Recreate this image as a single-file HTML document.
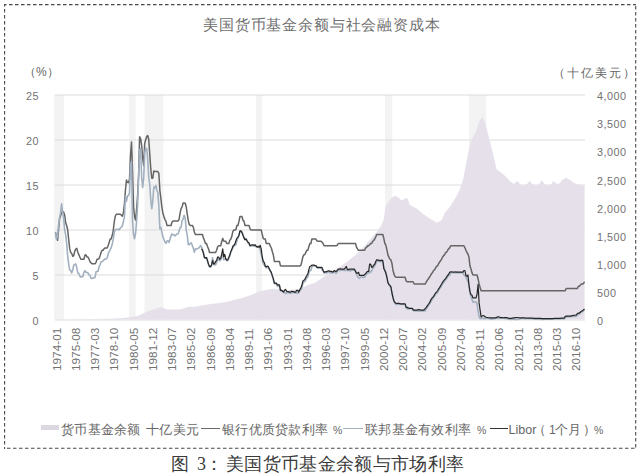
<!DOCTYPE html>
<html><head><meta charset="utf-8">
<style>
html,body{margin:0;padding:0;background:#fff;}
body{width:640px;height:476px;position:relative;overflow:hidden;font-family:"Liberation Sans",sans-serif;color:#666;}
.t{position:absolute;white-space:nowrap;line-height:1;}
.xl{color:#717171;position:absolute;white-space:nowrap;font-size:11.8px;line-height:1;transform-origin:0 0;transform:rotate(-90deg);}
.ry{color:#717171;position:absolute;left:597px;font-size:10.8px;letter-spacing:0.5px;line-height:1;}
.lg{font-size:13px;letter-spacing:0.3px;color:#666;}
.lgs{font-size:10.5px;color:#666;}
.ly{color:#717171;position:absolute;font-size:10.8px;letter-spacing:0.5px;line-height:1;text-align:right;width:20px;}
</style></head><body>

<svg width="640" height="476" viewBox="0 0 640 476" style="position:absolute;left:0;top:0">
<g stroke="#4a4a4a" stroke-width="1.1" stroke-dasharray="3.5 2.5" stroke-dashoffset="1" fill="none">
<line x1="4" y1="4.6" x2="636" y2="4.6"/>
<line x1="4.6" y1="4" x2="4.6" y2="449"/>
<line x1="4" y1="448.3" x2="636" y2="448.3" stroke-dashoffset="3"/>
<line x1="635.7" y1="4" x2="635.7" y2="449" stroke-dashoffset="4"/>
</g>
<rect x="54.0" y="95" width="10.0" height="224.5" fill="#f3f3f3"/>
<rect x="129.0" y="95" width="6.6" height="224.5" fill="#f3f3f3"/>
<rect x="144.5" y="95" width="19.0" height="224.5" fill="#f3f3f3"/>
<rect x="256.0" y="95" width="6.0" height="224.5" fill="#f3f3f3"/>
<rect x="385.0" y="95" width="7.3" height="224.5" fill="#f3f3f3"/>
<rect x="469.0" y="95" width="17.2" height="224.5" fill="#f3f3f3"/>
<line x1="55" y1="320.00" x2="585" y2="320.00" stroke="#dcdcdc" stroke-width="1"/>
<line x1="55" y1="275.00" x2="585" y2="275.00" stroke="#dcdcdc" stroke-width="1"/>
<line x1="55" y1="230.00" x2="585" y2="230.00" stroke="#dcdcdc" stroke-width="1"/>
<line x1="55" y1="185.00" x2="585" y2="185.00" stroke="#dcdcdc" stroke-width="1"/>
<line x1="55" y1="140.00" x2="585" y2="140.00" stroke="#dcdcdc" stroke-width="1"/>
<line x1="55" y1="95.00" x2="585" y2="95.00" stroke="#dcdcdc" stroke-width="1"/>
<path d="M55.50,319.50 L55.50,319.50 L110.00,318.80 L124.00,318.00 L138.00,316.00 L143.70,313.00 L151.20,310.30 L160.60,307.00 L167.20,309.40 L180.00,309.60 L188.90,306.80 L195.00,306.70 L207.50,304.40 L226.00,302.00 L241.90,298.00 L251.00,295.00 L260.60,291.00 L273.00,288.75 L288.75,290.30 L300.00,288.80 L310.00,284.30 L315.00,282.80 L325.50,275.50 L336.00,269.20 L346.50,262.30 L356.00,254.50 L364.20,246.20 L371.70,237.70 L377.40,231.00 L381.20,225.40 L384.00,218.80 L385.20,207.60 L387.70,202.60 L392.00,197.60 L395.20,195.70 L398.50,197.50 L401.50,200.60 L404.50,199.00 L407.20,197.80 L409.60,204.80 L416.20,208.20 L422.80,213.80 L430.40,219.00 L437.00,222.80 L441.70,220.00 L445.00,212.50 L449.00,207.90 L453.50,201.00 L457.90,193.60 L461.00,186.00 L463.20,179.30 L465.90,165.00 L468.60,150.70 L471.25,140.00 L475.80,132.00 L479.60,120.80 L482.40,117.00 L485.20,122.70 L489.00,137.80 L492.80,153.00 L496.50,169.00 L503.90,174.80 L511.30,182.30 L514.00,184.00 L517.30,180.80 L520.00,184.00 L523.00,186.00 L527.00,184.00 L529.90,180.80 L532.50,184.50 L536.00,186.00 L539.00,184.50 L541.70,180.00 L544.50,184.00 L548.00,186.00 L551.00,184.50 L553.60,180.80 L556.00,183.50 L559.00,184.00 L562.00,180.00 L566.20,177.80 L570.00,180.00 L574.00,183.00 L578.00,184.50 L584.60,186.00 L584.60,319.50 Z" fill="#e5e0ea"/>
<path d="M55.50,232.43 L56.51,237.11 L57.53,240.35 L58.54,229.82 L59.55,218.75 L60.57,216.14 L61.58,212.18 L62.59,212.00 L63.61,212.00 L64.62,214.88 L65.63,222.53 L66.65,225.50 L67.66,229.55 L68.67,239.36 L69.69,248.63 L70.70,252.50 L71.71,253.40 L72.73,256.37 L73.74,255.65 L74.75,251.06 L75.77,249.08 L76.78,248.36 L77.79,252.23 L78.81,254.66 L79.82,257.00 L80.84,259.25 L81.85,259.25 L82.86,259.25 L83.88,259.25 L84.89,255.20 L85.90,254.75 L86.92,256.91 L87.93,257.00 L88.94,258.98 L89.96,261.50 L90.97,262.85 L91.98,263.75 L93.00,263.75 L94.01,263.75 L95.02,263.75 L96.04,262.31 L97.05,259.25 L98.06,259.25 L99.08,258.53 L100.09,255.83 L101.10,252.32 L102.12,250.25 L103.13,250.25 L104.14,248.63 L105.16,248.00 L106.17,248.00 L107.18,248.00 L108.20,245.57 L109.21,242.33 L110.22,239.00 L111.24,238.91 L112.25,235.31 L113.26,230.54 L114.28,221.54 L115.29,216.05 L116.30,214.25 L117.32,214.25 L118.33,214.25 L119.34,214.25 L120.36,214.25 L121.37,215.15 L122.38,216.14 L123.40,212.81 L124.41,203.90 L125.42,190.49 L126.44,180.05 L127.45,182.30 L128.46,182.75 L129.48,179.33 L130.49,155.21 L131.50,142.07 L132.52,170.87 L133.53,206.33 L134.55,216.68 L135.56,219.92 L136.57,209.93 L137.59,195.89 L138.60,175.46 L139.61,136.85 L140.63,138.56 L141.64,145.13 L142.65,157.55 L143.67,165.65 L144.68,143.51 L145.69,139.73 L146.71,136.49 L147.72,135.50 L148.73,139.28 L149.75,153.95 L150.76,168.44 L151.77,178.25 L152.79,178.25 L153.80,170.96 L154.81,171.50 L155.83,171.50 L156.84,171.50 L157.85,171.50 L158.87,173.66 L159.88,190.49 L160.89,198.50 L161.91,207.32 L162.92,213.35 L163.93,216.50 L164.95,219.56 L165.96,221.18 L166.97,225.50 L167.99,225.50 L169.00,225.50 L170.01,225.50 L171.03,225.50 L172.04,221.99 L173.05,221.00 L174.07,221.00 L175.08,221.00 L176.09,221.00 L177.11,221.00 L178.12,221.00 L179.13,219.11 L180.15,212.63 L181.16,208.49 L182.18,206.60 L183.19,203.00 L184.20,203.00 L185.22,203.27 L186.23,206.78 L187.24,214.07 L188.26,220.46 L189.27,224.51 L190.28,225.50 L191.30,225.50 L192.31,225.50 L193.32,227.21 L194.34,231.98 L195.35,234.50 L196.36,234.50 L197.38,234.50 L198.39,234.50 L199.40,234.50 L200.42,234.50 L201.43,234.50 L202.44,234.50 L203.46,238.10 L204.47,240.53 L205.48,243.50 L206.50,243.50 L207.51,246.56 L208.52,248.90 L209.54,252.50 L210.55,252.50 L211.56,252.50 L212.58,252.50 L213.59,252.50 L214.60,252.50 L215.62,252.50 L216.63,250.25 L217.64,246.74 L218.66,245.75 L219.67,245.75 L220.68,245.75 L221.70,241.70 L222.71,238.37 L223.72,240.98 L224.74,241.25 L225.75,241.25 L226.76,243.41 L227.78,243.50 L228.79,243.50 L229.80,240.44 L230.82,239.00 L231.83,236.39 L232.85,231.44 L233.86,230.00 L234.87,230.00 L235.89,229.55 L236.90,225.50 L237.91,225.50 L238.93,221.63 L239.94,216.50 L240.95,216.50 L241.97,216.50 L242.98,220.37 L243.99,221.18 L245.01,225.50 L246.02,225.50 L247.03,225.50 L248.05,225.50 L249.06,225.50 L250.07,229.01 L251.09,230.00 L252.10,230.00 L253.11,230.00 L254.13,230.00 L255.14,230.00 L256.15,230.00 L257.17,230.00 L258.18,230.00 L259.19,230.00 L260.21,230.00 L261.22,230.00 L262.23,234.32 L263.25,238.55 L264.26,239.00 L265.27,239.00 L266.29,243.50 L267.30,243.50 L268.31,243.50 L269.33,243.50 L270.34,246.20 L271.35,248.00 L272.37,251.78 L273.38,255.11 L274.39,261.50 L275.41,261.50 L276.42,261.50 L277.43,261.50 L278.45,261.50 L279.46,261.50 L280.47,265.82 L281.49,266.00 L282.50,266.00 L283.51,266.00 L284.53,266.00 L285.54,266.00 L286.56,266.00 L287.57,266.00 L288.58,266.00 L289.60,266.00 L290.61,266.00 L291.62,266.00 L292.64,266.00 L293.65,266.00 L294.66,266.00 L295.68,266.00 L296.69,266.00 L297.70,266.00 L298.72,266.00 L299.73,266.00 L300.74,265.46 L301.76,261.95 L302.77,257.09 L303.78,254.75 L304.80,254.75 L305.81,252.41 L306.82,250.25 L307.84,250.25 L308.85,246.65 L309.86,243.50 L310.88,243.50 L311.89,239.00 L312.90,239.00 L313.92,239.00 L314.93,239.00 L315.94,239.00 L316.96,240.80 L317.97,241.25 L318.98,241.25 L320.00,241.25 L321.01,241.25 L322.02,242.15 L323.04,243.50 L324.05,245.75 L325.06,245.75 L326.08,245.75 L327.09,245.75 L328.10,245.75 L329.12,245.75 L330.13,245.75 L331.14,245.75 L332.16,245.75 L333.17,245.75 L334.19,245.75 L335.20,245.75 L336.21,245.75 L337.23,245.30 L338.24,243.50 L339.25,243.50 L340.27,243.50 L341.28,243.50 L342.29,243.50 L343.31,243.50 L344.32,243.50 L345.33,243.50 L346.35,243.50 L347.36,243.50 L348.37,243.50 L349.39,243.50 L350.40,243.50 L351.41,243.50 L352.43,243.50 L353.44,243.50 L354.45,243.50 L355.47,243.59 L356.48,246.92 L357.49,248.99 L358.51,250.25 L359.52,250.25 L360.53,250.25 L361.55,250.25 L362.56,250.25 L363.57,250.25 L364.59,250.25 L365.60,248.00 L366.61,247.46 L367.63,245.75 L368.64,245.75 L369.65,244.67 L370.67,243.50 L371.68,243.50 L372.69,241.43 L373.71,240.53 L374.72,239.00 L375.73,236.84 L376.75,234.50 L377.76,234.50 L378.77,234.50 L379.79,234.50 L380.80,234.50 L381.81,234.50 L382.83,234.50 L383.84,238.55 L384.86,243.50 L385.87,245.12 L386.88,249.80 L387.90,254.84 L388.91,257.18 L389.92,259.25 L390.94,259.97 L391.95,263.48 L392.96,270.23 L393.98,274.10 L394.99,276.44 L396.00,277.25 L397.02,277.25 L398.03,277.25 L399.04,277.25 L400.06,277.25 L401.07,277.25 L402.08,277.25 L403.10,277.25 L404.11,277.25 L405.12,277.25 L406.14,280.85 L407.15,281.75 L408.16,281.75 L409.18,281.75 L410.19,281.75 L411.20,281.75 L412.22,281.75 L413.23,282.02 L414.24,284.00 L415.26,284.00 L416.27,284.00 L417.28,284.00 L418.30,284.00 L419.31,284.00 L420.32,284.00 L421.34,284.00 L422.35,284.00 L423.36,284.00 L424.38,284.00 L425.39,283.91 L426.40,281.75 L427.42,280.13 L428.43,278.78 L429.44,277.25 L430.46,275.63 L431.47,273.65 L432.48,272.75 L433.50,270.59 L434.51,269.78 L435.53,268.25 L436.54,266.18 L437.55,265.91 L438.57,263.75 L439.58,262.04 L440.59,260.69 L441.61,259.25 L442.62,257.00 L443.63,255.65 L444.65,254.66 L445.66,252.50 L446.67,252.23 L447.69,250.25 L448.70,248.63 L449.71,247.82 L450.73,245.75 L451.74,245.75 L452.75,245.75 L453.77,245.75 L454.78,245.75 L455.79,245.75 L456.81,245.75 L457.82,245.75 L458.83,245.75 L459.85,245.75 L460.86,245.75 L461.87,245.75 L462.89,245.75 L463.90,245.75 L464.91,247.73 L465.93,250.34 L466.94,252.50 L467.95,254.03 L468.97,257.18 L469.98,266.00 L470.99,269.06 L472.01,272.84 L473.02,275.00 L474.03,275.00 L475.05,275.00 L476.06,275.00 L477.07,275.00 L478.09,278.96 L479.10,284.00 L480.11,287.51 L481.13,290.75 L482.14,290.75 L483.15,290.75 L484.17,290.75 L485.18,290.75 L486.20,290.75 L487.21,290.75 L488.22,290.75 L489.24,290.75 L490.25,290.75 L491.26,290.75 L492.28,290.75 L493.29,290.75 L494.30,290.75 L495.32,290.75 L496.33,290.75 L497.34,290.75 L498.36,290.75 L499.37,290.75 L500.38,290.75 L501.40,290.75 L502.41,290.75 L503.42,290.75 L504.44,290.75 L505.45,290.75 L506.46,290.75 L507.48,290.75 L508.49,290.75 L509.50,290.75 L510.52,290.75 L511.53,290.75 L512.54,290.75 L513.56,290.75 L514.57,290.75 L515.58,290.75 L516.60,290.75 L517.61,290.75 L518.62,290.75 L519.64,290.75 L520.65,290.75 L521.66,290.75 L522.68,290.75 L523.69,290.75 L524.70,290.75 L525.72,290.75 L526.73,290.75 L527.74,290.75 L528.76,290.75 L529.77,290.75 L530.78,290.75 L531.80,290.75 L532.81,290.75 L533.82,290.75 L534.84,290.75 L535.85,290.75 L536.87,290.75 L537.88,290.75 L538.89,290.75 L539.91,290.75 L540.92,290.75 L541.93,290.75 L542.95,290.75 L543.96,290.75 L544.97,290.75 L545.99,290.75 L547.00,290.75 L548.01,290.75 L549.03,290.75 L550.04,290.75 L551.05,290.75 L552.07,290.75 L553.08,290.75 L554.09,290.75 L555.11,290.75 L556.12,290.75 L557.13,290.75 L558.15,290.75 L559.16,290.75 L560.17,290.75 L561.19,290.75 L562.20,290.75 L563.21,290.75 L564.23,290.75 L565.24,290.66 L566.25,288.50 L567.27,288.50 L568.28,288.50 L569.29,288.50 L570.31,288.50 L571.32,288.50 L572.33,288.50 L573.35,288.50 L574.36,288.50 L575.37,288.50 L576.39,288.50 L577.40,288.41 L578.41,286.25 L579.43,286.25 L580.44,285.08 L581.45,284.00 L582.47,284.00 L583.48,283.55 L584.49,281.75" fill="none" stroke="#656565" stroke-width="1.5" stroke-linejoin="round"/>
<path d="M55.50,233.15 L56.51,239.27 L57.53,235.85 L58.54,225.41 L59.55,218.21 L60.57,212.63 L61.58,203.72 L62.59,211.91 L63.61,217.94 L64.62,229.46 L65.63,234.95 L66.65,243.23 L67.66,255.83 L68.67,263.84 L69.69,270.14 L70.70,270.59 L71.71,273.02 L72.73,270.05 L73.74,265.10 L74.75,264.74 L75.77,263.84 L76.78,267.62 L77.79,273.02 L78.81,273.20 L79.82,276.17 L80.84,277.07 L81.85,276.44 L82.86,276.62 L83.88,272.39 L84.89,270.68 L85.90,272.21 L86.92,272.39 L87.93,272.75 L88.94,274.82 L89.96,275.45 L90.97,278.15 L91.98,278.51 L93.00,277.88 L94.01,277.79 L95.02,277.43 L96.04,271.85 L97.05,271.49 L98.06,271.22 L99.08,266.90 L100.09,264.74 L101.10,261.77 L102.12,261.41 L103.13,260.96 L104.14,259.70 L105.16,258.98 L106.17,258.89 L107.18,257.99 L108.20,253.76 L109.21,251.60 L110.22,249.71 L111.24,247.64 L112.25,243.95 L113.26,239.36 L114.28,232.16 L115.29,229.73 L116.30,229.37 L117.32,229.46 L118.33,229.19 L119.34,229.91 L120.36,227.84 L121.37,227.39 L122.38,225.77 L123.40,221.54 L124.41,217.13 L125.42,196.07 L126.44,201.38 L127.45,195.98 L128.46,195.62 L129.48,192.83 L130.49,165.29 L131.50,161.51 L132.52,221.18 L133.53,234.77 L134.55,238.73 L135.56,233.51 L136.57,222.17 L137.59,204.71 L138.60,177.35 L139.61,149.90 L140.63,148.28 L141.64,176.63 L142.65,187.70 L143.67,178.52 L144.68,153.32 L145.69,148.10 L146.71,148.64 L147.72,159.62 L148.73,177.17 L149.75,184.28 L150.76,200.21 L151.77,208.67 L152.79,201.02 L153.80,186.98 L154.81,187.88 L155.83,185.54 L156.84,189.95 L157.85,192.65 L158.87,206.69 L159.88,228.92 L160.89,227.21 L161.91,232.61 L162.92,237.20 L163.93,239.45 L164.95,241.88 L165.96,243.41 L166.97,241.07 L167.99,240.80 L169.00,242.33 L170.01,239.18 L171.03,235.67 L172.04,233.96 L173.05,234.95 L174.07,234.68 L175.08,235.94 L176.09,234.77 L177.11,233.96 L178.12,233.69 L179.13,230.81 L180.15,227.39 L181.16,227.12 L182.18,220.46 L183.19,218.93 L184.20,215.24 L185.22,218.30 L186.23,230.09 L187.24,235.13 L188.26,244.58 L189.27,244.85 L190.28,243.50 L191.30,242.78 L192.31,245.57 L193.32,248.27 L194.34,252.23 L195.35,249.08 L196.36,248.90 L197.38,248.72 L198.39,248.09 L199.40,247.55 L200.42,245.57 L201.43,246.74 L202.44,249.26 L203.46,252.68 L204.47,257.09 L205.48,258.35 L206.50,257.72 L207.51,260.96 L208.52,264.47 L209.54,266.99 L210.55,267.35 L211.56,265.64 L212.58,257.81 L213.59,262.13 L214.60,265.10 L215.62,264.83 L216.63,262.67 L217.64,258.35 L218.66,259.43 L219.67,260.78 L220.68,259.43 L221.70,255.02 L222.71,254.39 L223.72,259.79 L224.74,259.07 L225.75,258.53 L226.76,260.78 L227.78,260.78 L228.79,258.17 L229.80,256.19 L230.82,252.41 L231.83,250.25 L232.85,247.91 L233.86,246.29 L234.87,245.30 L235.89,244.85 L236.90,241.16 L237.91,237.92 L238.93,235.76 L239.94,231.35 L240.95,231.44 L241.97,231.71 L242.98,234.23 L243.99,236.84 L245.01,239.09 L246.02,238.82 L247.03,240.44 L248.05,243.05 L249.06,243.95 L250.07,245.93 L251.09,245.84 L252.10,245.48 L253.11,245.66 L254.13,246.38 L255.14,245.39 L256.15,246.65 L257.17,246.83 L258.18,246.20 L259.19,247.01 L260.21,249.71 L261.22,254.21 L262.23,257.81 L263.25,263.75 L264.26,264.92 L265.27,266.81 L266.29,267.98 L267.30,266.90 L268.31,267.62 L269.33,269.06 L270.34,270.95 L271.35,273.11 L272.37,276.71 L273.38,280.13 L274.39,283.73 L275.41,283.46 L276.42,284.18 L277.43,286.43 L278.45,285.62 L279.46,286.16 L280.47,290.75 L281.49,290.30 L282.50,291.02 L283.51,292.10 L284.53,292.19 L285.54,293.72 L286.56,292.82 L287.57,292.73 L288.58,292.37 L289.60,293.36 L290.61,293.00 L291.62,292.64 L292.64,292.46 L293.65,292.73 L294.66,292.19 L295.68,293.09 L296.69,292.82 L297.70,293.36 L298.72,292.55 L299.73,290.75 L300.74,289.94 L301.76,287.96 L302.77,283.91 L303.78,281.75 L304.80,281.66 L305.81,279.77 L306.82,277.43 L307.84,277.16 L308.85,272.39 L309.86,270.95 L310.88,270.23 L311.89,266.72 L312.90,266.18 L313.92,265.55 L314.93,265.91 L315.94,266.00 L316.96,267.35 L317.97,268.34 L318.98,267.80 L320.00,268.16 L321.01,267.80 L322.02,269.60 L323.04,269.96 L324.05,273.02 L325.06,272.21 L326.08,273.02 L327.09,272.84 L328.10,272.57 L329.12,271.40 L330.13,273.02 L331.14,272.30 L332.16,272.84 L333.17,272.21 L334.19,272.39 L335.20,272.75 L336.21,273.29 L337.23,271.49 L338.24,270.41 L339.25,270.50 L340.27,269.96 L341.28,270.32 L342.29,270.14 L343.31,270.14 L344.32,270.50 L345.33,270.32 L346.35,270.50 L347.36,269.96 L348.37,270.41 L349.39,270.59 L350.40,270.95 L351.41,270.59 L352.43,269.96 L353.44,270.14 L354.45,270.05 L355.47,270.41 L356.48,274.37 L357.49,276.53 L358.51,277.88 L359.52,278.33 L360.53,277.16 L361.55,276.71 L362.56,277.34 L363.57,277.34 L364.59,277.16 L365.60,275.09 L366.61,274.37 L367.63,273.02 L368.64,273.20 L369.65,271.22 L370.67,272.30 L371.68,270.95 L372.69,268.43 L373.71,267.35 L374.72,265.82 L375.73,263.57 L376.75,261.23 L377.76,261.14 L378.77,261.50 L379.79,261.32 L380.80,261.41 L381.81,261.41 L382.83,262.40 L383.84,266.18 L384.86,270.59 L385.87,272.21 L386.88,276.80 L387.90,282.11 L388.91,284.27 L389.92,286.07 L390.94,287.15 L391.95,292.37 L392.96,297.59 L393.98,301.19 L394.99,303.62 L396.00,304.43 L397.02,304.34 L398.03,304.43 L399.04,304.25 L400.06,304.25 L401.07,304.25 L402.08,304.43 L403.10,304.34 L404.11,304.25 L405.12,304.25 L406.14,307.94 L407.15,308.84 L408.16,308.84 L409.18,308.66 L410.19,308.75 L411.20,308.66 L412.22,308.66 L413.23,309.02 L414.24,310.91 L415.26,310.73 L416.27,310.91 L417.28,310.91 L418.30,311.00 L419.31,311.18 L420.32,311.00 L421.34,310.91 L422.35,311.00 L423.36,311.00 L424.38,311.00 L425.39,310.73 L426.40,308.66 L427.42,307.13 L428.43,305.51 L429.44,304.16 L430.46,302.63 L431.47,300.56 L432.48,299.48 L433.50,297.50 L434.51,296.33 L435.53,294.89 L436.54,293.00 L437.55,292.64 L438.57,290.66 L439.58,288.50 L440.59,287.42 L441.61,285.98 L442.62,284.00 L443.63,282.56 L444.65,281.39 L445.66,279.59 L446.67,278.69 L447.69,276.89 L448.70,275.54 L449.71,275.09 L450.73,272.84 L451.74,272.75 L452.75,272.75 L453.77,272.75 L454.78,272.75 L455.79,272.84 L456.81,272.75 L457.82,272.66 L458.83,272.66 L459.85,272.75 L460.86,272.75 L461.87,272.75 L462.89,272.66 L463.90,274.82 L464.91,275.54 L465.93,277.16 L466.94,279.59 L467.95,281.84 L468.97,284.54 L469.98,293.18 L470.99,296.51 L472.01,299.48 L473.02,302.18 L474.03,302.00 L475.05,301.91 L476.06,302.00 L477.07,303.71 L478.09,311.27 L479.10,316.49 L480.11,318.56 L481.13,318.65 L482.14,318.02 L483.15,318.38 L484.17,318.65 L485.18,318.38 L486.20,318.11 L487.21,318.56 L488.22,318.56 L489.24,318.65 L490.25,318.92 L491.26,318.92 L492.28,318.92 L493.29,319.01 L494.30,318.83 L495.32,318.56 L496.33,318.20 L497.34,318.20 L498.36,318.38 L499.37,318.38 L500.38,318.29 L501.40,318.29 L502.41,318.29 L503.42,318.29 L504.44,318.38 L505.45,318.47 L506.46,318.56 L507.48,318.74 L508.49,319.10 L509.50,319.19 L510.52,319.19 L511.53,319.37 L512.54,319.10 L513.56,319.28 L514.57,319.37 L515.58,319.28 L516.60,319.37 L517.61,319.28 L518.62,319.10 L519.64,318.83 L520.65,318.74 L521.66,318.56 L522.68,318.56 L523.69,318.56 L524.70,318.83 L525.72,318.74 L526.73,318.56 L527.74,318.56 L528.76,318.56 L529.77,318.74 L530.78,318.65 L531.80,318.74 L532.81,318.65 L533.82,319.01 L534.84,319.19 L535.85,319.19 L536.87,319.28 L537.88,319.28 L538.89,319.19 L539.91,319.28 L540.92,319.19 L541.93,319.37 L542.95,319.37 L543.96,319.28 L544.97,319.19 L545.99,319.19 L547.00,319.10 L548.01,319.19 L549.03,319.19 L550.04,319.19 L551.05,319.19 L552.07,319.19 L553.08,318.92 L554.09,319.01 L555.11,319.01 L556.12,319.01 L557.13,318.92 L558.15,318.92 L559.16,318.83 L560.17,318.83 L561.19,318.74 L562.20,318.74 L563.21,318.92 L564.23,318.92 L565.24,317.84 L566.25,316.94 L567.27,316.58 L568.28,316.76 L569.29,316.67 L570.31,316.67 L571.32,316.58 L572.33,316.49 L573.35,316.40 L574.36,316.40 L575.37,316.40 L576.39,316.31 L577.40,315.14 L578.41,314.15 L579.43,314.06 L580.44,312.89 L581.45,311.90 L582.47,311.81 L583.48,310.64 L584.49,309.65" fill="none" stroke="#a2b0c0" stroke-width="1.6" stroke-linejoin="round"/>
<path d="M201.43,248.90 L202.44,250.25 L203.46,253.40 L204.47,257.90 L205.48,257.90 L206.50,257.45 L207.51,260.60 L208.52,264.20 L209.54,266.45 L210.55,266.45 L211.56,265.10 L212.58,260.60 L213.59,264.20 L214.60,263.75 L215.62,261.50 L216.63,260.60 L217.64,257.00 L218.66,257.00 L219.67,259.25 L220.68,258.80 L221.70,254.30 L222.71,248.90 L223.72,257.00 L224.74,254.30 L225.75,258.80 L226.76,260.15 L227.78,259.70 L228.79,257.45 L229.80,254.75 L230.82,251.60 L231.83,249.35 L232.85,246.20 L233.86,245.30 L234.87,243.95 L235.89,240.80 L236.90,238.10 L237.91,237.20 L238.93,235.40 L239.94,230.90 L240.95,230.90 L241.97,232.70 L242.98,235.40 L243.99,238.10 L245.01,239.90 L246.02,239.00 L247.03,240.80 L248.05,242.15 L249.06,243.05 L250.07,245.75 L251.09,245.30 L252.10,244.85 L253.11,244.85 L254.13,245.30 L255.14,244.85 L256.15,246.20 L257.17,247.10 L258.18,246.65 L259.19,247.10 L260.21,245.30 L261.22,248.90 L262.23,257.00 L263.25,261.50 L264.26,262.40 L265.27,266.00 L266.29,266.90 L267.30,266.00 L268.31,266.45 L269.33,269.15 L270.34,270.95 L271.35,272.30 L272.37,275.90 L273.38,278.60 L274.39,283.10 L275.41,283.10 L276.42,283.10 L277.43,284.90 L278.45,284.90 L279.46,284.90 L280.47,290.30 L281.49,290.30 L282.50,291.20 L283.51,292.10 L284.53,290.30 L285.54,289.40 L286.56,291.20 L287.57,291.65 L288.58,291.65 L289.60,292.10 L290.61,292.10 L291.62,291.20 L292.64,291.65 L293.65,291.65 L294.66,292.10 L295.68,292.10 L296.69,290.30 L297.70,290.30 L298.72,292.10 L299.73,289.85 L300.74,288.05 L301.76,285.80 L302.77,281.30 L303.78,280.40 L304.80,279.50 L305.81,277.25 L306.82,275.45 L307.84,274.10 L308.85,269.60 L309.86,266.45 L310.88,266.00 L311.89,265.10 L312.90,265.10 L313.92,265.10 L314.93,265.55 L315.94,265.55 L316.96,267.35 L317.97,267.35 L318.98,267.35 L320.00,267.35 L321.01,267.35 L322.02,267.35 L323.04,270.50 L324.05,272.30 L325.06,271.85 L326.08,271.85 L327.09,271.40 L328.10,270.95 L329.12,270.95 L330.13,271.40 L331.14,271.40 L332.16,271.85 L333.17,271.85 L334.19,270.50 L335.20,271.40 L336.21,271.40 L337.23,270.50 L338.24,269.15 L339.25,269.15 L340.27,268.70 L341.28,269.15 L342.29,269.15 L343.31,269.15 L344.32,269.15 L345.33,267.80 L346.35,266.45 L347.36,269.60 L348.37,269.60 L349.39,269.15 L350.40,269.15 L351.41,269.15 L352.43,269.15 L353.44,269.15 L354.45,269.15 L355.47,271.40 L356.48,273.20 L357.49,273.20 L358.51,272.30 L359.52,275.45 L360.53,275.45 L361.55,275.45 L362.56,275.45 L363.57,275.45 L364.59,274.55 L365.60,273.65 L366.61,272.30 L367.63,271.40 L368.64,271.40 L369.65,264.20 L370.67,264.20 L371.68,267.35 L372.69,266.90 L373.71,265.10 L374.72,264.20 L375.73,261.50 L376.75,259.70 L377.76,260.15 L378.77,260.15 L379.79,260.60 L380.80,260.60 L381.81,260.15 L382.83,260.60 L383.84,268.70 L384.86,270.50 L385.87,273.20 L386.88,277.25 L387.90,282.65 L388.91,284.45 L389.92,285.35 L390.94,287.15 L391.95,293.00 L392.96,297.50 L393.98,301.10 L394.99,302.45 L396.00,303.35 L397.02,303.35 L398.03,303.35 L399.04,303.35 L400.06,303.80 L401.07,303.80 L402.08,303.80 L403.10,303.80 L404.11,303.80 L405.12,303.80 L406.14,307.40 L407.15,307.40 L408.16,307.85 L409.18,308.30 L410.19,308.30 L411.20,308.30 L412.22,308.30 L413.23,310.10 L414.24,310.10 L415.26,310.10 L416.27,310.10 L417.28,310.10 L418.30,309.65 L419.31,309.65 L420.32,310.10 L421.34,310.10 L422.35,310.10 L423.36,310.10 L424.38,309.65 L425.39,308.30 L426.40,307.40 L427.42,305.60 L428.43,304.25 L429.44,302.90 L430.46,300.65 L431.47,298.85 L432.48,297.50 L433.50,296.60 L434.51,294.80 L435.53,293.00 L436.54,292.10 L437.55,290.75 L438.57,288.95 L439.58,287.60 L440.59,285.80 L441.61,284.00 L442.62,282.20 L443.63,280.85 L444.65,279.50 L445.66,278.60 L446.67,276.80 L447.69,275.45 L448.70,274.10 L449.71,272.30 L450.73,271.85 L451.74,271.85 L452.75,272.03 L453.77,272.12 L454.78,272.03 L455.79,271.85 L456.81,272.12 L457.82,272.12 L458.83,272.12 L459.85,272.12 L460.86,272.12 L461.87,272.12 L462.89,272.12 L463.90,270.50 L464.91,270.50 L465.93,275.45 L466.94,276.35 L467.95,275.00 L468.97,284.90 L469.98,291.65 L470.99,294.80 L472.01,295.25 L473.02,297.95 L474.03,297.95 L475.05,297.95 L476.06,297.95 L477.07,293.90 L478.09,284.45 L479.10,302.90 L480.11,310.10 L481.13,316.85 L482.14,315.95 L483.15,315.50 L484.17,315.95 L485.18,316.85 L486.20,317.21 L487.21,317.48 L488.22,317.66 L489.24,317.75 L490.25,317.84 L491.26,317.93 L492.28,317.93 L493.29,317.93 L494.30,317.93 L495.32,317.84 L496.33,317.66 L497.34,316.94 L498.36,316.85 L499.37,317.03 L500.38,317.57 L501.40,317.66 L502.41,317.66 L503.42,317.75 L504.44,317.66 L505.45,317.66 L506.46,317.66 L507.48,317.84 L508.49,318.11 L509.50,318.29 L510.52,318.29 L511.53,318.29 L512.54,318.11 L513.56,317.93 L514.57,317.84 L515.58,317.66 L516.60,317.48 L517.61,317.48 L518.62,317.75 L519.64,317.84 L520.65,317.84 L521.66,317.84 L522.68,317.84 L523.69,317.84 L524.70,317.84 L525.72,318.02 L526.73,318.11 L527.74,318.11 L528.76,318.11 L529.77,318.20 L530.78,318.20 L531.80,318.20 L532.81,318.20 L533.82,318.29 L534.84,318.29 L535.85,318.29 L536.87,318.38 L537.88,318.38 L538.89,318.47 L539.91,318.47 L540.92,318.47 L541.93,318.56 L542.95,318.56 L543.96,318.65 L544.97,318.65 L545.99,318.65 L547.00,318.65 L548.01,318.56 L549.03,318.56 L550.04,318.65 L551.05,318.65 L552.07,318.56 L553.08,318.56 L554.09,318.47 L555.11,318.47 L556.12,318.38 L557.13,318.38 L558.15,318.38 L559.16,318.29 L560.17,318.29 L561.19,318.20 L562.20,318.20 L563.21,318.20 L564.23,318.02 L565.24,316.40 L566.25,316.13 L567.27,316.04 L568.28,316.04 L569.29,316.04 L570.31,316.04 L571.32,315.95 L572.33,315.68 L573.35,315.41 L574.36,315.23 L575.37,315.23 L576.39,314.87 L577.40,313.52 L578.41,313.07 L579.43,313.07 L580.44,311.99 L581.45,311.09 L582.47,310.91 L583.48,309.83 L584.49,308.93" fill="none" stroke="#262626" stroke-width="1.2" stroke-linejoin="round"/>
</svg>
<div class="t" style="left:203px;top:17px;font-size:15px;letter-spacing:0.85px;color:#6e6e6e;">美国货币基金余额与社会融资成本</div>
<div class="t" style="left:24px;top:66px;font-size:12px;">（%）</div>
<div class="t" style="left:553px;top:67.5px;font-size:11.5px;letter-spacing:2.1px;">（十亿美元）</div>
<div class="ly" style="left:19px;top:315.8px;">0</div>
<div class="ly" style="left:19px;top:270.8px;">5</div>
<div class="ly" style="left:19px;top:225.8px;">10</div>
<div class="ly" style="left:19px;top:180.8px;">15</div>
<div class="ly" style="left:19px;top:135.8px;">20</div>
<div class="ly" style="left:19px;top:90.8px;">25</div>
<div class="ry" style="top:315.8px;">0</div>
<div class="ry" style="top:287.7px;">500</div>
<div class="ry" style="top:259.7px;">1,000</div>
<div class="ry" style="top:231.6px;">1,500</div>
<div class="ry" style="top:203.6px;">2,000</div>
<div class="ry" style="top:175.5px;">2,500</div>
<div class="ry" style="top:147.4px;">3,000</div>
<div class="ry" style="top:119.4px;">3,500</div>
<div class="ry" style="top:91.3px;">4,000</div>
<div class="xl" style="left:51.5px;top:371px;">1974-01</div>
<div class="xl" style="left:70.8px;top:371px;">1975-08</div>
<div class="xl" style="left:90.0px;top:371px;">1977-03</div>
<div class="xl" style="left:109.3px;top:371px;">1978-10</div>
<div class="xl" style="left:128.5px;top:371px;">1980-05</div>
<div class="xl" style="left:147.8px;top:371px;">1981-12</div>
<div class="xl" style="left:167.0px;top:371px;">1983-07</div>
<div class="xl" style="left:186.3px;top:371px;">1985-02</div>
<div class="xl" style="left:205.5px;top:371px;">1986-09</div>
<div class="xl" style="left:224.8px;top:371px;">1988-04</div>
<div class="xl" style="left:244.0px;top:371px;">1989-11</div>
<div class="xl" style="left:263.3px;top:371px;">1991-06</div>
<div class="xl" style="left:282.6px;top:371px;">1993-01</div>
<div class="xl" style="left:301.8px;top:371px;">1994-08</div>
<div class="xl" style="left:321.1px;top:371px;">1996-03</div>
<div class="xl" style="left:340.3px;top:371px;">1997-10</div>
<div class="xl" style="left:359.6px;top:371px;">1999-05</div>
<div class="xl" style="left:378.8px;top:371px;">2000-12</div>
<div class="xl" style="left:398.1px;top:371px;">2002-07</div>
<div class="xl" style="left:417.3px;top:371px;">2004-02</div>
<div class="xl" style="left:436.6px;top:371px;">2005-09</div>
<div class="xl" style="left:455.8px;top:371px;">2007-04</div>
<div class="xl" style="left:475.1px;top:371px;">2008-11</div>
<div class="xl" style="left:494.4px;top:371px;">2010-06</div>
<div class="xl" style="left:513.6px;top:371px;">2012-01</div>
<div class="xl" style="left:532.9px;top:371px;">2013-08</div>
<div class="xl" style="left:552.1px;top:371px;">2015-03</div>
<div class="xl" style="left:571.4px;top:371px;">2016-10</div>
<div style="position:absolute;left:41px;top:425px;width:18px;height:5px;background:#dcd8e0;"></div>
<div class="t lg" style="left:61px;top:423px;">货币基金余额</div>
<div class="t lg" style="left:146px;top:423px;">十亿美元</div>
<div style="position:absolute;left:201px;top:428px;width:19px;height:1.4px;background:#6a6a6a;"></div>
<div class="t lg" style="left:222px;top:423px;">银行优质贷款利率</div>
<div class="t lgs" style="left:333px;top:425px;">%</div>
<div style="position:absolute;left:342.5px;top:428px;width:20px;height:1.4px;background:#a2b0c0;"></div>
<div class="t lg" style="left:365px;top:423px;">联邦基金有效利率</div>
<div class="t lgs" style="left:477px;top:425px;">%</div>
<div style="position:absolute;left:489.5px;top:428px;width:18px;height:1.3px;background:#333;"></div>
<div class="t lgs" style="left:508.5px;top:424px;font-size:12.5px;">Libor</div>
<div class="t lg" style="left:533px;top:423px;">（</div>
<div class="t lgs" style="left:549px;top:424px;font-size:12px;">1</div>
<div class="t lg" style="left:555px;top:423px;">个月</div>
<div class="t lg" style="left:583px;top:423px;">）</div>
<div class="t lgs" style="left:594px;top:425px;">%</div>
<div class="t" style="left:171px;top:455px;font-size:18px;color:#3a3a3a;">图</div>
<div class="t" style="left:197px;top:455px;font-family:'Liberation Serif',serif;font-size:18px;color:#3a3a3a;">3</div>
<div class="t" style="left:205px;top:455px;font-size:18px;color:#3a3a3a;">：</div>
<div class="t" style="left:226px;top:455px;letter-spacing:0.35px;font-size:18px;color:#3a3a3a;">美国货币基金余额与市场利率</div>
</body></html>
